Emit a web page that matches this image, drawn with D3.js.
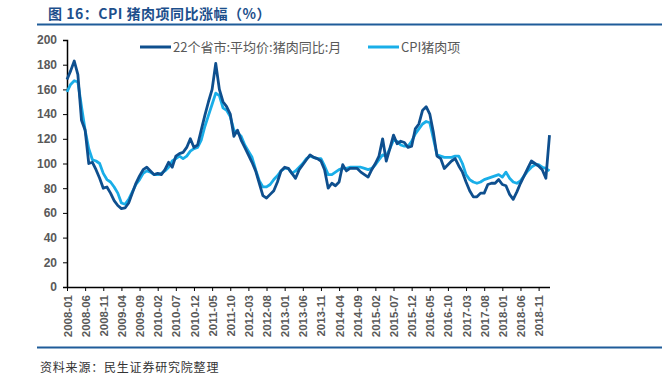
<!DOCTYPE html>
<html><head><meta charset="utf-8">
<script src="https://cdn.jsdelivr.net/npm/d3@7"></script>
<style>
html,body{margin:0;padding:0;background:#fff;}
svg{display:block;}
</style></head>
<body>
<script>
const startYear = 2008, startMonth = 1;
const seriesNames = ["22个省市:平均价:猪肉同比:月", "CPI猪肉项"];
const provinces22 = [168,175,183,172,135,127,100,101,95,88,80,81,76,70,66,63.5,64,68,76,84,90,95,97,94,91,92,91,95,101,97,
106,108,109,113,120,113,115,127,139,150,160,181,160,150,146,140,122,127,119,113,107,101,94,84,74,72,75,78,85,94,
97,96,92,88,95,99,103,107,105,104,102,95,80,84,82,85,99,94,96,96,96,93,91,89,95,100,106,120,102,112,
123,116,118,117,113,114,128,132,143,146,140,125,106,104,96,99,102,104,98,93,85,78,73,73,76,76,83,84,84,87,
83,82,75,71,77,84,90,96,102,100,98,95,88,123];
const cpiPork = [158,164,167,166,146,127,112,103,102,100,92,87,85,81,76,68,67,71,77,83,87,92,94,93,91,91,92,94,97,102,
104,106,104,106,110,112,113,119,130,139,148,157,155,145,143,138,127,125,122,115,110,105,95,86,81,81,83,87,90,94,
96,96,92,94,97,100,104,106,105,104,104,98,91,91,93,95,96,96,97,97,97,97,96,95,96,99,103,107,106,112,
119,118,115,114,114,118,124,128,132,134,133,120,107,106,105,105,105,106,106,100,91,87,85,84,85,87,88,89,90,91,
89,93,88,85,84,86,90,94,97,99,99,97,96,94];
const yTicks = [0,20,40,60,80,100,120,140,160,180,200];
const months = provinces22.map((d,i)=>{
  const m = startMonth - 1 + i;
  const y = startYear + Math.floor(m/12);
  const mm = (m%12)+1;
  return y + "-" + (mm<10?"0":"") + mm;
});
const tickLabels = months.filter((d,i)=>i%5===0);

const W=662,H=383;
const svg=d3.select("body").append("svg").attr("width",W).attr("height",H);
const x=d3.scalePoint().domain(months).range([67,549.5]);
const y=d3.scaleLinear().domain([0,200]).range([287,40]);

// title
svg.append("text").attr("x",48).attr("y",19)
 .attr("font-family","'Noto Sans CJK SC','Noto Sans',sans-serif").attr("font-weight","bold")
 .attr("font-size",14).attr("letter-spacing",0.5).attr("fill","#1d4f8c").text("图 16：CPI 猪肉项同比涨幅（%）");
svg.append("line").attr("x1",37).attr("x2",662).attr("y1",24.5).attr("y2",24.5).attr("stroke","#1f5c99").attr("stroke-width",2);
svg.append("line").attr("x1",37).attr("x2",662).attr("y1",347.5).attr("y2",347.5).attr("stroke","#1f5c99").attr("stroke-width",2);
svg.append("text").attr("x",40).attr("y",372)
 .attr("font-family","'Noto Sans CJK SC',sans-serif").attr("font-size",12).attr("letter-spacing",0.8).attr("fill","#333")
 .text("资料来源：民生证券研究院整理");

// y axis
const ya=svg.append("g").attr("transform","translate(67,0)")
 .call(d3.axisLeft(y).tickValues(yTicks).tickSize(4).tickPadding(6).tickFormat(d3.format("d")));
ya.select(".domain").attr("stroke","#000").attr("stroke-width",1.5);
ya.selectAll(".tick line").attr("stroke","#000");
ya.selectAll("text").attr("font-family","Arial,'Liberation Sans',sans-serif").attr("font-weight","bold")
 .attr("font-size",12).attr("fill","#595959");

// x axis
const xa=svg.append("g").attr("transform","translate(0,287)")
 .call(d3.axisBottom(x).tickValues(tickLabels).tickSize(4).tickSizeOuter(0));
xa.select(".domain").attr("stroke","#000").attr("stroke-width",1.5);
xa.selectAll(".tick line").attr("stroke","#000");
xa.selectAll("text").attr("font-family","Arial,'Liberation Sans',sans-serif").attr("font-weight","bold")
 .attr("font-size",11.5).attr("fill","#595959")
 .attr("transform","rotate(-90)").attr("text-anchor","end").attr("dy","0.35em").attr("x",-8).attr("y",0);

const line=d3.line().x((d,i)=>x(months[i])).y(d=>y(d));
svg.append("path").datum(cpiPork).attr("d",line).attr("fill","none").attr("stroke","#19aee8").attr("stroke-width",2.8).attr("stroke-linejoin","round");
svg.append("path").datum(provinces22).attr("d",line).attr("fill","none").attr("stroke","#0e4f8e").attr("stroke-width",2.8).attr("stroke-linejoin","round");

// legend
const colors=["#0e4f8e","#19aee8"];
const lx=[140,368];
seriesNames.forEach((n,i)=>{
  svg.append("line").attr("x1",lx[i]).attr("x2",lx[i]+31).attr("y1",47).attr("y2",47).attr("stroke",colors[i]).attr("stroke-width",3);
  svg.append("text").attr("x",lx[i]+33).attr("y",52).attr("font-family","'Noto Sans CJK SC',sans-serif")
   .attr("font-size",13).attr("fill","#595959").text(n);
});
</script>
</body></html>
